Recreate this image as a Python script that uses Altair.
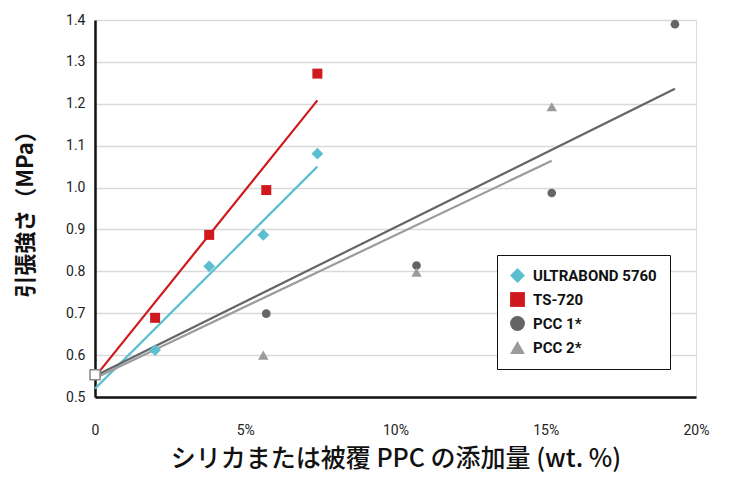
import altair as alt
import pandas as pd

series_names = ["ULTRABOND 5760", "TS-720", "PCC 1*", "PCC 2*"]
series_colors = ["#5bbfd0", "#d0191f", "#646567", "#9a9b9d"]
series_shapes = ["diamond", "square", "circle", "triangle-up"]
series_sizes = [140, 100, 75, 110]

ub_x = [2.0, 3.8, 5.6, 7.4]
ub_y = [0.612, 0.812, 0.887, 1.081]
ts_x = [2.0, 3.8, 5.7, 7.4]
ts_y = [0.689, 0.887, 0.994, 1.272]
p1_x = [5.7, 10.7, 15.2, 19.3]
p1_y = [0.699, 0.814, 0.987, 1.390]
p2_x = [5.6, 10.7, 15.2]
p2_y = [0.600, 0.798, 1.193]

base_x = [0.0]
base_y = [0.553]

# trend line end points
ub_tx = [0.0, 7.4]
ub_ty = [0.520, 1.050]
ts_tx = [0.0, 7.4]
ts_ty = [0.548, 1.208]
p1_tx = [0.0, 19.3]
p1_ty = [0.550, 1.236]
p2_tx = [0.0, 15.2]
p2_ty = [0.545, 1.064]

x_ticks = [0, 5, 10, 15, 20]
y_ticks = [0.5, 0.6, 0.7, 0.8, 0.9, 1.0, 1.1, 1.2, 1.3, 1.4]

pts = []
for name, xs, ys in zip(series_names, [ub_x, ts_x, p1_x, p2_x], [ub_y, ts_y, p1_y, p2_y]):
    for a, b in zip(xs, ys):
        pts.append({"series": name, "x": a, "y": b})
pts = pd.DataFrame(pts)

base = pd.DataFrame({"x": base_x, "y": base_y})

xscale = alt.Scale(domain=[0, 20], nice=False, zero=False)
yscale = alt.Scale(domain=[0.5, 1.4], nice=False, zero=False)

xaxis = alt.Axis(
    values=x_ticks,
    labelExpr="datum.value == 0 ? '0' : datum.value + '%'",
    title="シリカまたは被覆 PPC の添加量 (wt. %)",
    grid=False, ticks=False, labelFlush=False,
    domainColor="#111111", domainWidth=2.5,
    labelFont="Roboto", labelFontSize=14, labelColor="#222222", labelPadding=26,
    titleFont="Noto Sans CJK JP Medium, Noto Sans CJK JP", titleFontSize=25, titleFontWeight="normal",
    titleColor="#111111", titlePadding=9,
)
yaxis = alt.Axis(
    values=y_ticks, format=".1f",
    title="引張強さ（MPa）",
    grid=True, gridColor="#d9d9d9", gridWidth=1.5,
    ticks=False,
    domainColor="#111111", domainWidth=2.5,
    labelFont="Roboto", labelFontSize=14, labelColor="#222222", labelPadding=10,
    titleFont="Noto Sans CJK JP", titleFontSize=22, titleFontWeight="bold",
    titleColor="#111111", titlePadding=28,
)

line_layers = []
for i, (xs, ys) in enumerate(zip([ub_tx, ts_tx, p1_tx, p2_tx], [ub_ty, ts_ty, p1_ty, p2_ty])):
    df = pd.DataFrame({"x": xs, "y": ys})
    enc_x = alt.X("x:Q", scale=xscale, axis=xaxis) if i == 0 else alt.X("x:Q", scale=xscale)
    enc_y = alt.Y("y:Q", scale=yscale, axis=yaxis) if i == 0 else alt.Y("y:Q", scale=yscale)
    line_layers.append(
        alt.Chart(df).mark_line(strokeWidth=2.2, color=series_colors[i]).encode(x=enc_x, y=enc_y)
    )

color_scale = alt.Scale(domain=series_names, range=series_colors)
shape_scale = alt.Scale(domain=series_names, range=series_shapes)

point_layers = []
for name, sz in zip(series_names, series_sizes):
    point_layers.append(
        alt.Chart(pts).transform_filter(alt.datum.series == name).mark_point(
            filled=True, opacity=1, size=sz
        ).encode(
            x=alt.X("x:Q", scale=xscale),
            y=alt.Y("y:Q", scale=yscale),
            color=alt.Color("series:N", scale=color_scale),
            shape=alt.Shape("series:N", scale=shape_scale),
        )
    )

base_layer = alt.Chart(base).mark_point(
    shape="square", filled=True, fill="white", stroke="#888888", strokeWidth=1.5, size=100, opacity=1
).encode(x=alt.X("x:Q", scale=xscale), y=alt.Y("y:Q", scale=yscale))

chart = alt.layer(*line_layers, *point_layers, base_layer).properties(
    width=601, height=377,
    autosize=alt.AutoSizeParams(type="none"),
    padding={"left": 87, "top": 12, "right": 20, "bottom": 82},
).configure_view(stroke=None).configure(background="white").configure_legend(
    title=None, orient="none", legendX=402, legendY=235,
    labelFont="Roboto", labelFontSize=15, labelFontWeight="bold",
    labelColor="#111111", symbolSize=220, symbolStrokeWidth=0,
    rowPadding=8, padding=13, strokeColor="#111111", fillColor="white",
    labelOffset=8,
)

chart.save("out.html", embed_options={"renderer": "svg", "actions": False})
